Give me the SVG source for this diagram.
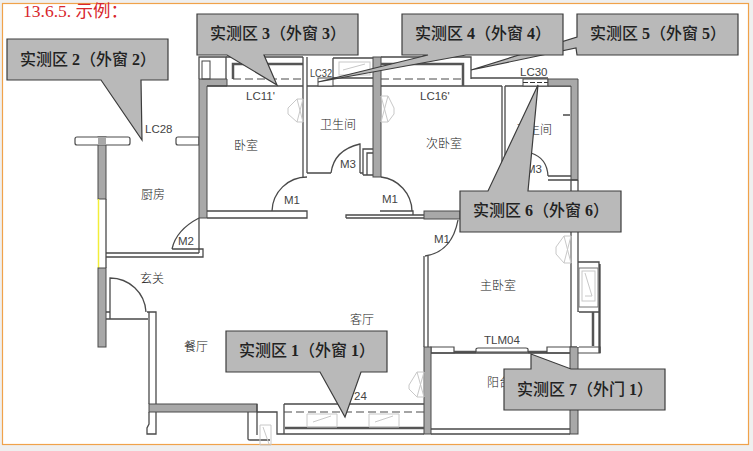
<svg xmlns="http://www.w3.org/2000/svg" width="753" height="451" viewBox="0 0 753 451">
<style>
.l{fill:none;stroke:#4a4a4a;stroke-width:1.3}
.w{fill:#a8a8a8;stroke:#4a4a4a;stroke-width:1}
.b{fill:#fff;stroke:#4a4a4a;stroke-width:1.2}
.t{fill:none;stroke:#444;stroke-width:1}
.f{fill:none;stroke:#c8c8c8;stroke-width:1}
.d{fill:none;stroke:#4a4a4a;stroke-width:1.2;stroke-dasharray:8 4}
.k{fill:none;stroke:#555;stroke-width:2.5}
.lab{font-family:"Liberation Sans","Noto Sans CJK SC",sans-serif;font-size:11.5px;fill:#444}
.cn{font-family:"Noto Sans CJK SC",sans-serif;font-size:12px;font-weight:300;fill:#222}
.c{fill:#b9b9b9;stroke:#3c3c3c;stroke-width:1.2;stroke-linejoin:miter}
.ct{font-family:"Liberation Serif","Noto Sans CJK SC",serif;font-size:16px;font-weight:500;fill:#222}
.ct tspan{font-weight:700}
</style>
<rect width="753" height="451" fill="#efefef"/>
<rect x="2.500" y="3.500" width="746" height="441" fill="#fff" stroke="#f0a24a" stroke-width="1.2"/>
<text x="23" y="17" font-family="Liberation Serif,Noto Sans CJK SC,serif" font-size="17.500" fill="#d8262c">13.6.5. 示例：</text>
<g id="plan">
<rect class="w" x="98" y="137" width="8" height="62"/>
<path d="M98.500 199V268" stroke="#f2ee3a" stroke-width="1.500" fill="none"/>
<path class="l" d="M106 199V268"/>
<rect class="w" x="98" y="268" width="8" height="79"/>
<rect class="b" x="75" y="137" width="55" height="8" rx="2"/>
<rect class="w" x="98" y="137" width="8" height="8" style="stroke:none"/>
<path class="b" d="M199 137H178Q176 137 176 139V143Q176 145 178 145H199Z"/>
<path class="l" d="M106 253H199M106 257H203V249L199 249"/>
<path class="w" d="M199 79H227V86H207V218H199Z"/>
<path class="l" d="M199 79V57H226V79M199 218V253"/>
<rect class="t" x="202" y="61" width="8" height="18"/>
<path class="l" d="M226 57H303M207 86H303"/>
<path class="k" d="M233 79V64H303"/>
<path class="d" d="M233 79H303"/>
<path class="l" d="M303 57V177M307 57V173"/>
<path class="l" d="M307 86H373M307 173H331M360 173H363"/>
<rect x="318" y="78" width="15" height="8" fill="#fff" stroke="#4a4a4a"/>
<path class="l" d="M333 58H373M333 58V78M333 78H373"/>
<rect class="f" x="339" y="62" width="31" height="13"/>
<path class="f" d="M343 70L365 64"/>
<rect class="w" x="373" y="57" width="8" height="120"/>
<path class="l" d="M363 175V149H373M367 175V153H373M363 175H373"/>
<path class="l" d="M381 57H471V79M381 86H502"/>
<path class="k" d="M381 64H463V86"/>
<path class="d" d="M381 79H463"/>
<path class="l" d="M471 78H548M502 86V191M505 86H571M505 86V191"/>
<rect x="523" y="79" width="25" height="7" fill="#fff" stroke="#4a4a4a"/>
<path d="M523 82.500H548" stroke="#333" stroke-width="1" stroke-dasharray="5 2"/>
<path class="w" d="M548 79H578V180H571V86H548Z"/>
<path class="l" d="M563 115H570M548 176H571M548 180H578M571 180V347M578 180V262"/>
<path class="l" d="M207 211H307V218H207M346 218V215H413V211H380M346 215H424M346 218H424"/>
<path class="l" d="M272 211A35 35 0 0 1 307 177M412 211A35 35 0 0 0 381 177M331 173Q334 150 360 144V173M172 249Q176 230 199 218M172 249H199M531 153Q547 158 548 176M458 220Q452 252 425 256"/>
<rect class="w" x="424" y="211" width="36" height="8"/>
<path class="l" d="M424 256V347M428 256V347"/>
<path class="b" d="M431 347H454V353H431Z"/>
<path class="k" d="M454 352H476M528 352H547"/>
<path class="b" d="M476 352V349Q476 348 478 348H526Q528 348 528 349V352Z"/>
<path class="b" d="M547 347H600V353H547Z"/>
<rect class="w" x="424" y="347" width="7" height="87"/>
<rect class="w" x="570" y="347" width="8" height="87"/>
<path class="l" d="M431 353H570"/>
<path class="l" d="M578 262H599V353M600 264V353M578 312H599M578 262V314"/>
<rect x="579" y="268" width="19" height="39" fill="#fff" stroke="#777"/>
<rect class="f" x="582" y="271" width="13" height="30"/>
<path class="f" d="M585 273L592 296M585 296H592"/>
<path d="M578 312V347" stroke="#fff" stroke-width="2" stroke-dasharray="6 4"/>
<path class="k" d="M593 312V346"/>
<path class="l" d="M431 429H570M431 434H570"/>
<path class="l" d="M106 319H148M110 319V278A36 36 0 0 1 146 312M106 312H110V319"/>
<path class="l" d="M147 312H156V404M149 312V404M149 412V424L147 428V434H156V412"/>
<rect class="w" x="149" y="404" width="108" height="8"/>
<path class="l" d="M257 404V435M248 412V439Q248 440 250 440H270M257 412H277V434H284M284 404H424M284 404V434H424"/>
<path class="d" d="M284 412H424"/>
<path class="k" d="M285 428H424"/>
<path class="f" d="M260 425H271V445H260ZM263 427L269 444"/>
<path class="f" d="M307 414H337V427H307ZM313 422L331 416M369 414H399V427H369ZM375 422L393 416"/>
<path class="f" d="M288 108L297 99H303V122H297L288 114ZM297 99L303 122M303 99L297 122"/>
<path class="f" d="M394 108L388 96H381V122H388L394 114ZM388 96L381 122M381 96L388 122"/>
<path class="f" d="M556 247L564 236H571V263H564L556 254ZM564 236L571 263M571 236L564 263"/>
<path class="f" d="M409 385L417 372H424V397H417L409 389ZM417 372L424 397M424 372L417 397"/>
<text class="lab" x="145" y="133">LC28</text>
<text class="lab" x="246" y="100">LC11'</text>
<text class="lab" x="310" y="77" textLength="22" lengthAdjust="spacingAndGlyphs">LC32</text>
<text class="lab" x="420" y="100">LC16'</text>
<text class="lab" x="520" y="76">LC30</text>
<text class="lab" x="484" y="344">TLM04</text>
<text class="lab" x="354" y="400">24</text>
<text class="lab" x="284" y="204">M1</text>
<text class="lab" x="382" y="203">M1</text>
<text class="lab" x="434" y="243">M1</text>
<text class="lab" x="340" y="168">M3</text>
<text class="lab" x="526" y="173">M3</text>
<text class="lab" x="178" y="245">M2</text>
<text class="cn" x="234" y="150">卧室</text>
<text class="cn" x="141" y="199">厨房</text>
<text class="cn" x="320" y="129">卫生间</text>
<text class="cn" x="426" y="148">次卧室</text>
<text class="cn" x="516" y="134">卫生间</text>
<text class="cn" x="480" y="290">主卧室</text>
<text class="cn" x="140" y="283">玄关</text>
<text class="cn" x="184" y="351">餐厅</text>
<text class="cn" x="350" y="324">客厅</text>
<text class="cn" x="487" y="387">阳台</text>
</g>
<g id="area2"><path class="c" d="M7 39H168V80H141L142 140L101 80H7Z"/><text class="ct" x="20" y="65">实测区 <tspan>2</tspan>（外窗 <tspan>2</tspan>）</text></g>
<g id="area3"><path class="c" d="M197 14H358V55H264L277 85L227 55H197Z"/><text class="ct" x="210" y="39">实测区 <tspan>3</tspan>（外窗 <tspan>3</tspan>）</text></g>
<g id="area5"><path class="c" d="M577 14H738V55H577L576 48L471 70L577 37Z"/><text class="ct" x="590" y="39">实测区 <tspan>5</tspan>（外窗 <tspan>5</tspan>）</text></g>
<g id="area4"><path class="c" d="M402 14H563V55H466L318 82L428 55H402Z"/><text class="ct" x="415" y="39">实测区 <tspan>4</tspan>（外窗 <tspan>4</tspan>）</text></g>
<g id="area6"><path class="c" d="M460 191H488L538 85L528 191H621V232H460Z"/><text class="ct" x="473" y="216">实测区 <tspan>6</tspan>（外窗 <tspan>6</tspan>）</text></g>
<g id="area1"><path class="c" d="M226 331H387V372H361L345 417L320 372H226Z"/><text class="ct" x="239" y="356">实测区 <tspan>1</tspan>（外窗 <tspan>1</tspan>）</text></g>
<g id="area7"><path class="c" d="M504 369H531V354L571 369H665V410H504Z"/><text class="ct" x="517" y="395">实测区 <tspan>7</tspan>（外门 <tspan>1</tspan>）</text></g>
</svg>
